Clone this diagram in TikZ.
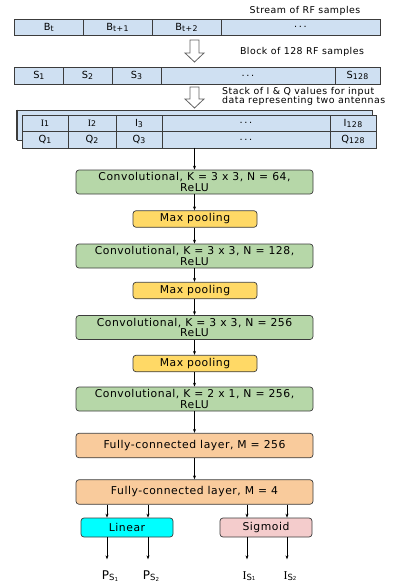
\documentclass[tikz,border=0pt]{standalone}
\usepackage{fontspec}
\setmainfont[LetterSpace=5]{DejaVu Sans}
\newfontfamily\serifI{Liberation Serif}
\usetikzlibrary{arrows.meta}
\definecolor{cellblue}{RGB}{207,224,242}
\definecolor{convgreen}{RGB}{182,215,168}
\definecolor{poolyellow}{RGB}{255,217,102}
\definecolor{fcorange}{RGB}{249,203,156}
\definecolor{lincyan}{RGB}{0,255,255}
\definecolor{sigpink}{RGB}{244,204,204}
\definecolor{edge}{RGB}{60,60,60}
\newcommand{\sbs}[1]{\raisebox{-0.15ex}{\fontsize{7.8}{8}\selectfont #1}}
\newcommand{\osbs}[1]{\raisebox{-0.2ex}{\fontsize{8.5}{9}\selectfont #1}}
\newcommand{\ssbs}[1]{\raisebox{-0.1ex}{\fontsize{5.5}{6}\selectfont #1}}
\newcommand{\ddd}{.\,.\,.}
\begin{document}
\begin{tikzpicture}[x=1pt,y=-1pt,
  cell/.style={draw=edge,line width=0.9pt,fill=cellblue,inner sep=0pt,font=\fontsize{9.8}{10}\selectfont},
  layer/.style={draw=edge,line width=0.7pt,rounded corners=3pt,inner sep=0pt,align=center,font=\fontsize{10.8}{10.6}\selectfont},
  conv/.style={layer,fill=convgreen,minimum width=237pt,minimum height=24pt},
  pool/.style={layer,fill=poolyellow,minimum width=124pt,minimum height=16.5pt},
  fc/.style={layer,fill=fcorange,minimum width=237pt,minimum height=24.5pt},
  act/.style={layer,minimum width=92pt,minimum height=19pt},
  arr/.style={-{Stealth[length=4pt,width=3pt]},line width=0.7pt,black},
  note/.style={font=\fontsize{9.4}{9.4}\selectfont,inner sep=0pt,align=left},
  outlbl/.style={inner sep=0pt,font=\fontsize{12}{12}\selectfont},
  hollow/.style={draw=edge!80,line width=0.8pt,fill=white}]
\useasboundingbox (0,0) rectangle (396,588);
% stream row
\node[note] (stream) at (305,11) {Stream of RF samples};
\node[cell,minimum width=68.3pt,minimum height=16.7pt] (b1) at (48.85,27.35) {B\sbs{t}};
\node[cell,minimum width=69pt,minimum height=16.7pt] (b2) at (117.5,27.35) {B\sbs{t+1}};
\node[cell,minimum width=69pt,minimum height=16.7pt] (b3) at (186.5,27.35) {B\sbs{t+2}};
\node[cell,minimum width=159pt,minimum height=16.7pt] (b4) at (300.5,27.35) {\ddd};
% arrow 1
\draw[hollow] (190,40) -- (199,40) -- (199,53) -- (204,53) -- (194.5,62) -- (185,53) -- (190,53) -- cycle;
\node[note] (block) at (302,52) {Block of 128 RF samples};
% sample row
\node[cell,minimum width=48.3pt,minimum height=17pt] (s1) at (38.85,75.5) {S\sbs{1}};
\node[cell,minimum width=49pt,minimum height=17pt] (s2) at (87.5,75.5) {S\sbs{2}};
\node[cell,minimum width=49pt,minimum height=17pt] (s3) at (136.5,75.5) {S\sbs{3}};
\node[cell,minimum width=174pt,minimum height=17pt] (s4) at (248,75.5) {\ddd};
\node[cell,minimum width=45pt,minimum height=17pt] (s5) at (357.5,75.5) {S\sbs{128}};
% arrow 2
\draw[hollow] (190,87) -- (199,87) -- (199,99) -- (204,99) -- (194.5,108) -- (185,99) -- (190,99) -- cycle;
\node[note,anchor=west] (stack) at (222,96.5) {Stack of I \& Q values for input\\data representing two antennas};
% stacked table
\node[draw=edge,line width=0.8pt,fill=cellblue,minimum width=355pt,minimum height=30pt,inner sep=0pt] (back) at (194.5,125) {};
\draw[edge,line width=1.8pt] (back.north west) -- (back.south west);
\foreach \nm/\xa/\xb/\ta/\tb in {c1/22/68/{{\serifI I}\sbs{1}}/{Q\sbs{1}},c2/68/116/{{\serifI I}\sbs{2}}/{Q\sbs{2}},c3/116/162/{I\sbs{3}}/{Q\sbs{3}},c4/162/330/{\ddd}/{\ddd},c5/330/376/{I\sbs{128}}/{Q\sbs{128}}}{
  \node[cell,minimum width={\xb-\xa},minimum height=16.5pt] (\nm i) at ({(\xa+\xb)/2},123.25) {\ta};
  \node[cell,minimum width={\xb-\xa},minimum height=16.5pt] (\nm q) at ({(\xa+\xb)/2},139.75) {\tb};
}
\coordinate (tab) at (194.5,148);
% layers
\node[conv] (conv1) at (194.5,182) {Convolutional, K = 3 x 3, N = 64,\\ReLU};
\node[pool] (mp1) at (195,219) {Max pooling};
\node[conv] (conv2) at (194.5,256) {Convolutional, K = 3 x 3, N = 128,\\ReLU};
\node[pool] (mp2) at (195,290.5) {Max pooling};
\node[conv] (conv3) at (194.5,327.5) {Convolutional, K = 3 x 3, N = 256\\ReLU};
\node[pool] (mp3) at (195,363.5) {Max pooling};
\node[conv] (conv4) at (194.5,399) {Convolutional, K = 2 x 1, N = 256,\\ReLU};
\node[fc] (fc1) at (194.5,445.5) {Fully-connected layer, M = 256};
\node[fc] (fc2) at (194.5,492) {Fully-connected layer, M = 4};
\node[act,fill=lincyan] (lin) at (127,527.5) {Linear};
\node[act,fill=sigpink] (sig) at (266,527.5) {Sigmoid};
% connectors
\draw[arr] (tab) -- (conv1);
\draw[arr] (conv1) -- (conv1 |- mp1.north);
\draw[arr] (mp1.south -| conv2) -- (conv2);
\draw[arr] (conv2) -- (conv2 |- mp2.north);
\draw[arr] (mp2.south -| conv3) -- (conv3);
\draw[arr] (conv3) -- (conv3 |- mp3.north);
\draw[arr] (mp3.south -| conv4) -- (conv4);
\draw[arr] (conv4) -- (fc1);
\draw[arr] (fc1) -- (fc2);
\foreach \src/\dx/\nm in {lin/-20/o1,lin/21/o2,sig/-19/o3,sig/21/o4}{
  \coordinate (\nm top) at ([xshift=\dx pt]\src.north);
  \coordinate (\nm) at ([xshift=\dx pt,yshift=-22pt]\src.south);
  \draw[arr] (fc2.south -| \nm top) -- (\nm top);
  \draw[arr] ([xshift=\dx pt]\src.south) -- (\nm);
}
\node[outlbl] (p1) at (110,576) {P\osbs{S\ssbs{1}}};
\node[outlbl] (p2) at (151,576) {P\osbs{S\ssbs{2}}};
\node[outlbl] (i1) at (249,576) {{\serifI I}\osbs{S\ssbs{1}}};
\node[outlbl] (i2) at (290,576) {{\serifI I}\osbs{S\ssbs{2}}};
\end{tikzpicture}
\end{document}
